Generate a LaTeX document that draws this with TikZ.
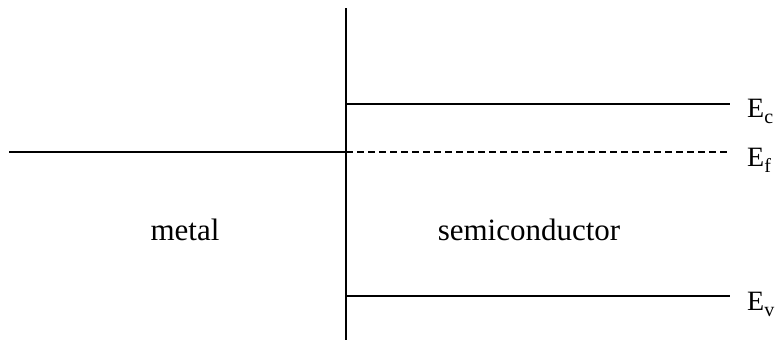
\documentclass[tikz,border=0pt]{standalone}
\usepackage{fontspec}
\setmainfont{Liberation Serif}
\newcommand{\bandsub}[1]{\raisebox{-6pt}{\fontsize{20}{20}\selectfont #1}}
\begin{document}
\begin{tikzpicture}[x=1pt,y=-1pt,
  band/.style={line width=1.6pt},
  lbl/.style={font=\fontsize{31}{36}\selectfont, inner sep=0pt},
  elbl/.style={font=\fontsize{28}{32}\selectfont, inner sep=0pt, anchor=base west}]
\useasboundingbox (0,0) rectangle (780,340);
\coordinate (top) at (346,8);
\coordinate (bot) at (346,340);
\draw[band] (top) -- (bot);
\coordinate (cL) at (346,104);
\coordinate (cR) at (730,104);
\coordinate (fL) at (346,152);
\coordinate (fR) at (730,152);
\coordinate (vL) at (346,296);
\coordinate (vR) at (730,296);
\coordinate (mL) at (9,152);
\draw[band] (cL) -- (cR);
\draw[band] (vL) -- (vR);
\draw[band, dash pattern=on 7pt off 4pt] (fL) -- (fR);
\draw[band] (mL) -- (fL);
\node[elbl] (ec) at (747,117.5) {E\bandsub{c}};
\node[elbl] (ef) at (747,166) {E\bandsub{f}};
\node[elbl] (ev) at (747,310) {E\bandsub{v}};
\node[lbl, anchor=base] (metal) at (185,240) {metal};
\node[lbl, anchor=base] (semi) at (529,240) {semiconductor};
\end{tikzpicture}
\end{document}
